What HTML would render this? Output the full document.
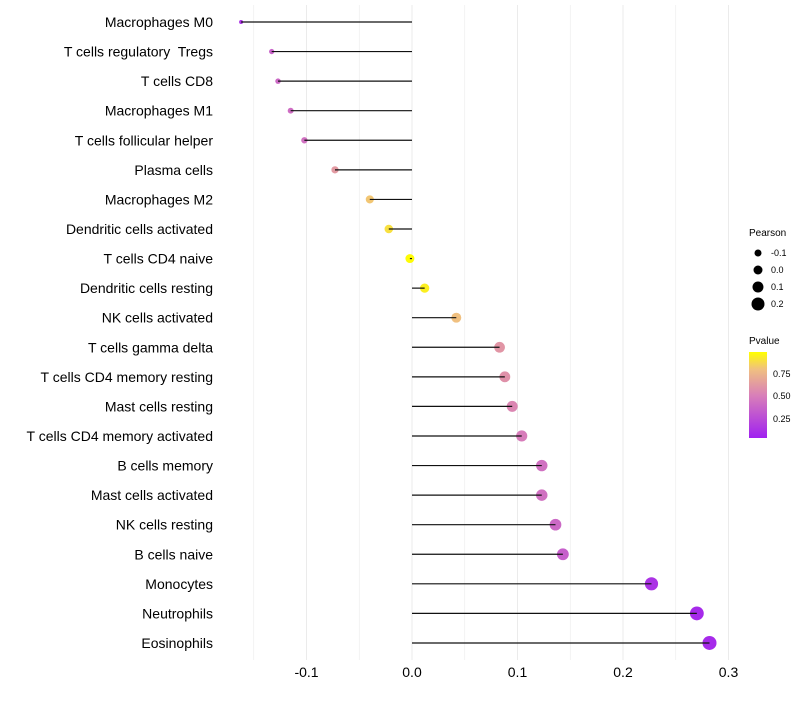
<!DOCTYPE html>
<html><head><meta charset="utf-8"><style>
body{margin:0;background:#fff;font-family:"Liberation Sans",sans-serif}
text{white-space:pre}
</style></head><body>
<svg id="c" width="800" height="700" xmlns="http://www.w3.org/2000/svg">
<defs><linearGradient id="pg" x1="0" y1="1" x2="0" y2="0">
<stop offset="0" stop-color="#A020F0"/><stop offset="0.5" stop-color="#D980B8"/><stop offset="0.8" stop-color="#F0C080"/><stop offset="1" stop-color="#FFFF00"/></linearGradient></defs>
<g id="grid"></g><g id="marks"></g><g id="labels"></g>
<g font-size="9" fill="#000">
<text x="749" y="236" font-size="10">Pearson</text>
<circle cx="758" cy="253" r="3.5"/><text x="771" y="256">-0.1</text>
<circle cx="758" cy="270" r="4.5"/><text x="771" y="273">0.0</text>
<circle cx="758" cy="287" r="5.5"/><text x="771" y="290">0.1</text>
<circle cx="758" cy="304" r="6.5"/><text x="771" y="307">0.2</text>
</g>
<g font-size="9" fill="#000">
<text x="749" y="344" font-size="10">Pvalue</text>
<rect x="749" y="352" width="18" height="86" fill="url(#pg)"/>
<text x="773" y="377">0.75</text><text x="773" y="399">0.50</text><text x="773" y="422">0.25</text>
</g>
</svg>
<script>
const categories=["Macrophages M0","T cells regulatory  Tregs","T cells CD8","Macrophages M1","T cells follicular helper","Plasma cells","Macrophages M2","Dendritic cells activated","T cells CD4 naive","Dendritic cells resting","NK cells activated","T cells gamma delta","T cells CD4 memory resting","Mast cells resting","T cells CD4 memory activated","B cells memory","Mast cells activated","NK cells resting","B cells naive","Monocytes","Neutrophils","Eosinophils"];
const pearson=[-0.162,-0.133,-0.127,-0.115,-0.102,-0.073,-0.040,-0.022,-0.002,0.012,0.042,0.083,0.088,0.095,0.104,0.123,0.123,0.136,0.143,0.227,0.270,0.282];
const pvalue=[0.1,0.35,0.38,0.4,0.42,0.62,0.82,0.9,0.99,0.95,0.8,0.6,0.58,0.53,0.48,0.42,0.42,0.38,0.33,0.1,0.05,0.05];
const ticks=[-0.1,0,0.1,0.2,0.3];
const tickLabels=["-0.1","0.0","0.1","0.2","0.3"];
const NS="http://www.w3.org/2000/svg";
const x=v=>412+v*1055;
const y=i=>22+i*29.57;
const r=v=>Math.sqrt(4+(v+0.162)/0.444*45);
function lerp(a,b,t){return a.map((c,k)=>Math.round(c+(b[k]-c)*t));}
function col(p){const s=[[0,[160,32,240]],[0.5,[217,128,184]],[0.8,[240,192,128]],[1,[255,255,0]]];
for(let k=1;k<s.length;k++){if(p<=s[k][0]){const t=(p-s[k-1][0])/(s[k][0]-s[k-1][0]);return "rgb("+lerp(s[k-1][1],s[k][1],t).join(",")+")";}}return "rgb(255,255,0)";}
function mk(tag,a,parent){const e=document.createElementNS(NS,tag);for(const k in a)e.setAttribute(k,a[k]);document.getElementById(parent).appendChild(e);return e;}
for(let v=-0.15;v<=0.3001;v+=0.05){const g=mk("line",{x1:x(v),x2:x(v),y1:5,y2:660,stroke:"#ebebeb","stroke-width":Math.abs(Math.round(v*20)%2)===0?1:0.6},"grid");

}
ticks.forEach((t,i)=>{const e=mk("text",{x:x(t),y:677,"text-anchor":"middle","font-size":14,fill:"#000"},"labels");e.textContent=tickLabels[i];

});
categories.forEach((c,i)=>{
const d=mk("circle",{cx:x(pearson[i]),cy:y(i),r:r(pearson[i]),fill:col(pvalue[i])},"marks");


const l=mk("line",{x1:x(0),x2:x(pearson[i]),y1:y(i),y2:y(i),stroke:"#111","stroke-width":1.2},"marks");


const t=mk("text",{x:213,y:y(i)+5,"text-anchor":"end","font-size":14,fill:"#000"},"labels");t.textContent=c;


});
</script>
</body></html>
